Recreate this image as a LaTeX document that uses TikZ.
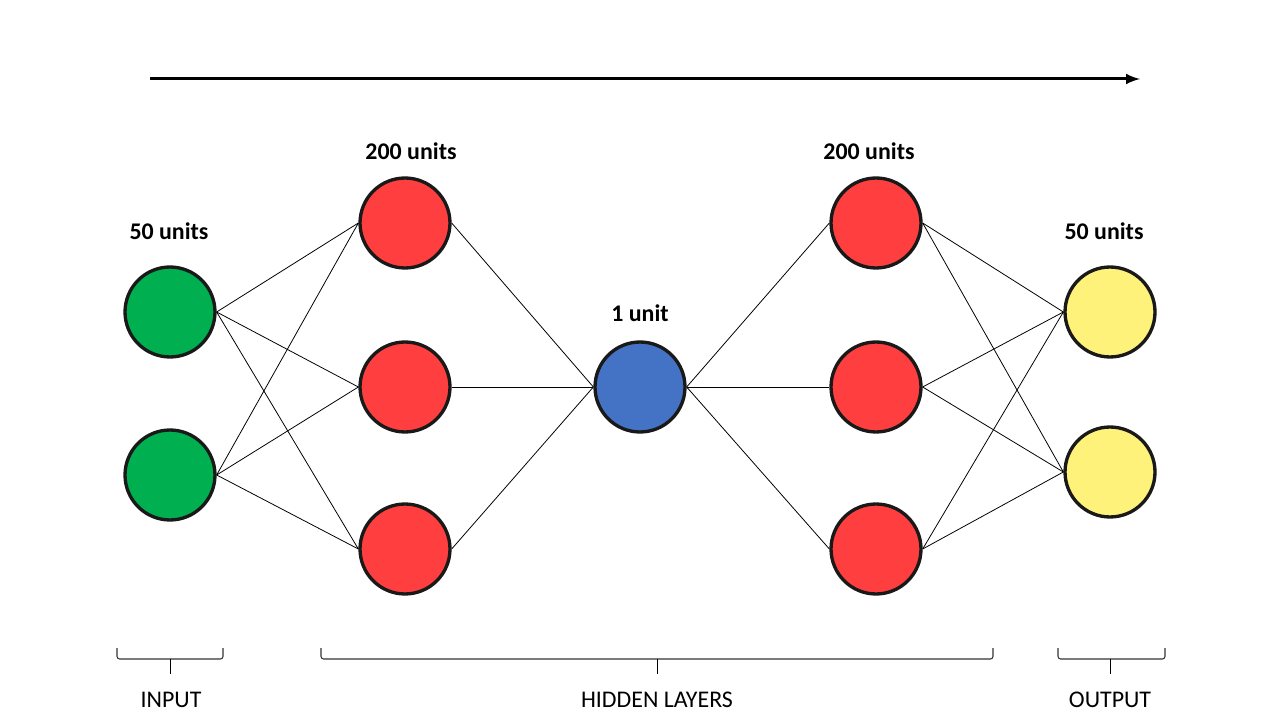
\documentclass[tikz,border=0pt]{standalone}
\usepackage{fontspec}
\setmainfont{Carlito}
\definecolor{ingreen}{HTML}{00B050}
\definecolor{hidred}{HTML}{FF3F3F}
\definecolor{midblue}{HTML}{4472C4}
\definecolor{outyellow}{HTML}{FFF27A}
\begin{document}
\begin{tikzpicture}[>=latex, x=0.02cm, y=0.02cm,
	unit/.style={circle, draw=black!90, line width=1.9pt, minimum size=1.8cm, inner sep=0pt},
	link/.style={draw, line width=0.45pt},
	count/.style={font=\fontsize{13.6}{16}\selectfont\bfseries},
	layer/.style={font=\fontsize{13.6}{16}\selectfont},
	group/.style={draw=black!80, line width=0.6pt, rounded corners=1.5pt}]
	\useasboundingbox (0,0) rectangle (1280,720);

	\draw[->, line width=1.7pt] (150,641) -- (1140,641);

	\node[unit, fill=ingreen] (I1) at (170,408) {};
	\node[unit, fill=ingreen] (I2) at (170,245) {};
	\node[unit, fill=hidred] (A1) at (405,497) {};
	\node[unit, fill=hidred] (A2) at (405,333) {};
	\node[unit, fill=hidred] (A3) at (405,171) {};
	\node[unit, fill=midblue] (M) at (640,333) {};
	\node[unit, fill=hidred] (B1) at (876,497) {};
	\node[unit, fill=hidred] (B2) at (876,333) {};
	\node[unit, fill=hidred] (B3) at (876,171) {};
	\node[unit, fill=outyellow] (O1) at (1110,408) {};
	\node[unit, fill=outyellow] (O2) at (1110,248) {};

	\node[count] (NI) at (169,489) {50 units};
	\node[count] (NA) at (411,569) {200 units};
	\node[count] (NM) at (640,407) {1 unit};
	\node[count] (NB) at (869,569) {200 units};
	\node[count] (NO) at (1104,489) {50 units};

	\draw[link] (I1.east) -- (A1.west);
	\draw[link] (I1.east) -- (A2.west);
	\draw[link] (I1.east) -- (A3.west);
	\draw[link] (I2.east) -- (A1.west);
	\draw[link] (I2.east) -- (A2.west);
	\draw[link] (I2.east) -- (A3.west);
	\draw[link] (A1.east) -- (M.west);
	\draw[link] (A2.east) -- (M.west);
	\draw[link] (A3.east) -- (M.west);
	\draw[link] (M.east) -- (B1.west);
	\draw[link] (M.east) -- (B2.west);
	\draw[link] (M.east) -- (B3.west);
	\draw[link] (B1.east) -- (O1.west);
	\draw[link] (B1.east) -- (O2.west);
	\draw[link] (B2.east) -- (O1.west);
	\draw[link] (B2.east) -- (O2.west);
	\draw[link] (B3.east) -- (O1.west);
	\draw[link] (B3.east) -- (O2.west);

	% brackets under the layers
	\draw[group] (117,72) |- (170,61) -| (223,72);
	\draw (170,61) -- (170,46);
	\draw[group] (321,72) |- (657,61) -| (993,72);
	\draw (657,61) -- (657,46);
	\draw[group] (1058,72) |- (1110,61) -| (1165,72);
	\draw (1110,61) -- (1110,46);
	\node[layer] (LI) at (171,20) {INPUT};
	\node[layer] (LH) at (657,20) {HIDDEN LAYERS};
	\node[layer] (LO) at (1110,20) {OUTPUT};
\end{tikzpicture}
\end{document}
